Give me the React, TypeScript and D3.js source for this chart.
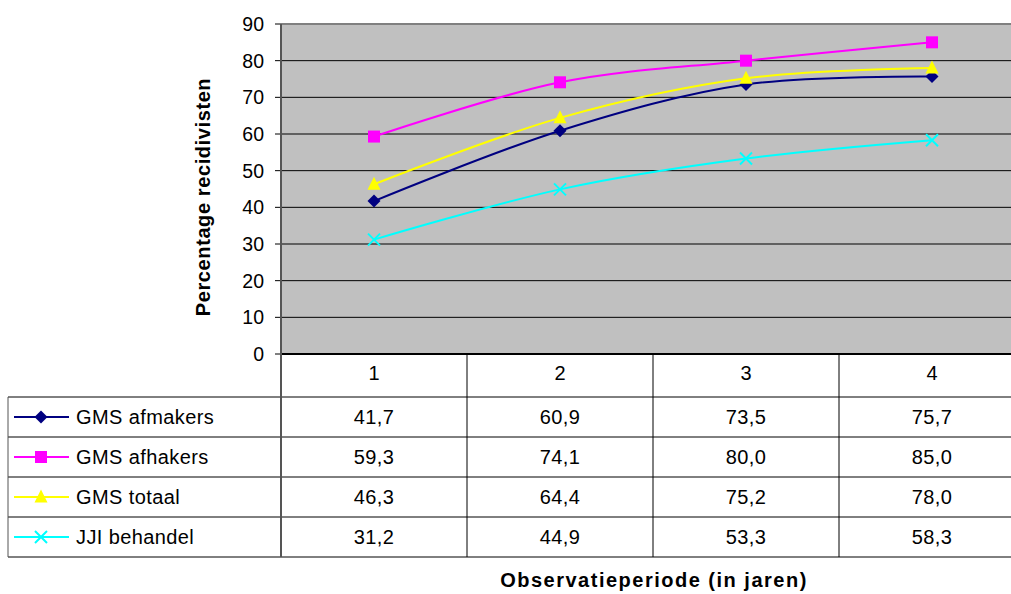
import React, { useEffect, useRef } from "react";
import * as d3 from "d3";

const categories = ["1", "2", "3", "4"];
const seriesNames = ["GMS afmakers", "GMS afhakers", "GMS totaal", "JJI behandel"];
const afmakers = [41.7, 60.9, 73.5, 75.7];
const afhakers = [59.3, 74.1, 80.0, 85.0];
const totaal = [46.3, 64.4, 75.2, 78.0];
const jji = [31.2, 44.9, 53.3, 58.3];
const yTicks = [0, 10, 20, 30, 40, 50, 60, 70, 80, 90];

const colors = ["#000080", "#FF00FF", "#FFFF00", "#00FFFF"];
const markers = ["diamond", "square", "triangle", "cross"];

const W = 1011;
const H = 594;
const FONT = "'Liberation Sans', Arial, sans-serif";

const App: React.FC = () => {
  const svgRef = useRef<SVGSVGElement | null>(null);

  useEffect(() => {
    if (!svgRef.current) return;
    const svg = d3.select(svgRef.current);
    svg.selectAll("*").remove();

    const plot = { left: 281, top: 24, bottom: 354, right: 1025 };
    const tableTop = 397;
    const tableBottom = 557;
    const tableLeft = 8;

    const values = [afmakers, afhakers, totaal, jji];

    const x = d3.scaleBand<string>().domain(categories).range([plot.left, plot.right]);
    const y = d3.scaleLinear().domain([0, 90]).range([plot.bottom, plot.top]);
    const row = d3.scaleBand<string>().domain(seriesNames).range([tableTop, tableBottom]);

    // plot background
    svg
      .append("rect")
      .attr("x", plot.left)
      .attr("y", plot.top)
      .attr("width", plot.right - plot.left)
      .attr("height", plot.bottom - plot.top)
      .attr("fill", "#C0C0C0");

    // gridlines
    svg
      .append("g")
      .selectAll("line")
      .data(yTicks.filter((t) => t > 0))
      .join("line")
      .attr("x1", plot.left)
      .attr("x2", plot.right)
      .attr("y1", (d) => y(d))
      .attr("y2", (d) => y(d))
      .attr("stroke", (d) => (d === 90 ? "#808080" : "#000"))
      .attr("stroke-width", (d) => (d === 90 ? 2 : 1));

    // y ticks + labels
    const yAxis = svg.append("g");
    yAxis
      .selectAll("line")
      .data(yTicks)
      .join("line")
      .attr("x1", plot.left - 6)
      .attr("x2", plot.left)
      .attr("y1", (d) => y(d))
      .attr("y2", (d) => y(d))
      .attr("stroke", "#000");
    yAxis
      .selectAll("text")
      .data(yTicks)
      .join("text")
      .attr("x", plot.left - 17)
      .attr("y", (d) => y(d))
      .attr("dy", "0.36em")
      .attr("text-anchor", "end")
      .attr("font-family", FONT)
      .attr("font-size", 19.5)
      .text((d) => d);

    // table lines
    const tbl = svg.append("g").attr("stroke", "#000").attr("stroke-width", 1);
    tbl
      .append("line")
      .attr("x1", plot.left)
      .attr("x2", plot.right)
      .attr("y1", plot.bottom)
      .attr("y2", plot.bottom)
      .attr("stroke-width", 2);
    const hLines = [tableTop, ...seriesNames.map((s) => (row(s) as number) + row.bandwidth())];
    tbl
      .selectAll("line.h")
      .data(hLines)
      .join("line")
      .attr("class", "h")
      .attr("x1", tableLeft)
      .attr("x2", W)
      .attr("y1", (d) => d)
      .attr("y2", (d) => d);
    tbl
      .selectAll("line.v")
      .data(categories.slice(1))
      .join("line")
      .attr("class", "v")
      .attr("x1", (d) => x(d) as number)
      .attr("x2", (d) => x(d) as number)
      .attr("y1", plot.bottom)
      .attr("y2", tableBottom);
    tbl
      .append("line")
      .attr("x1", tableLeft)
      .attr("x2", tableLeft)
      .attr("y1", tableTop)
      .attr("y2", tableBottom)
      .attr("stroke", "#555");

    // left axis line
    svg
      .append("line")
      .attr("x1", plot.left)
      .attr("x2", plot.left)
      .attr("y1", plot.top)
      .attr("y2", tableBottom)
      .attr("stroke", "#555")
      .attr("stroke-width", 2);

    // category labels
    svg
      .append("g")
      .selectAll("text")
      .data(categories)
      .join("text")
      .attr("x", (d) => (x(d) as number) + x.bandwidth() / 2)
      .attr("y", 373)
      .attr("dy", "0.36em")
      .attr("text-anchor", "middle")
      .attr("font-family", FONT)
      .attr("font-size", 20)
      .text((d) => d);

    const drawMarker = (
      g: d3.Selection<SVGGElement, unknown, null, undefined>,
      kind: string,
      cx: number,
      cy: number,
      color: string
    ) => {
      if (kind === "diamond") {
        const r = 6.5;
        g.append("path")
          .attr("d", `M${cx},${cy - r}L${cx + r},${cy}L${cx},${cy + r}L${cx - r},${cy}Z`)
          .attr("fill", color);
      } else if (kind === "square") {
        g.append("rect")
          .attr("x", cx - 6)
          .attr("y", cy - 6)
          .attr("width", 12)
          .attr("height", 12)
          .attr("fill", color);
      } else if (kind === "triangle") {
        const r = 6.5;
        g.append("path")
          .attr("d", `M${cx},${cy - r - 1}L${cx + r},${cy + r - 1}L${cx - r},${cy + r - 1}Z`)
          .attr("fill", color);
      } else {
        const r = 6;
        g.append("path")
          .attr("d", `M${cx - r},${cy - r}L${cx + r},${cy + r}M${cx - r},${cy + r}L${cx + r},${cy - r}`)
          .attr("stroke", color)
          .attr("stroke-width", 2)
          .attr("fill", "none");
      }
    };

    const line = d3
      .line<number>()
      .x((_, i) => (x(categories[i]) as number) + x.bandwidth() / 2)
      .y((d) => y(d))
      .curve(d3.curveCatmullRom.alpha(0.5));

    const series = svg.append("g");
    values.forEach((vals, si) => {
      const g = series.append("g");
      g.append("path")
        .attr("d", line(vals))
        .attr("fill", "none")
        .attr("stroke", colors[si])
        .attr("stroke-width", 2);
      vals.forEach((v, i) => {
        drawMarker(g, markers[si], (x(categories[i]) as number) + x.bandwidth() / 2, y(v), colors[si]);
      });
    });

    // table rows: legend + values
    const fmt = (v: number) => v.toFixed(1).replace(".", ",");
    seriesNames.forEach((name, si) => {
      const cy = (row(name) as number) + row.bandwidth() / 2;
      const g = svg.append("g");
      g.append("line")
        .attr("x1", 14)
        .attr("x2", 69)
        .attr("y1", cy)
        .attr("y2", cy)
        .attr("stroke", colors[si])
        .attr("stroke-width", 2);
      drawMarker(g, markers[si], 41, cy, colors[si]);
      g.append("text")
        .attr("x", 76)
        .attr("y", cy)
        .attr("dy", "0.36em")
        .attr("font-family", FONT)
        .attr("font-size", 20)
        .attr("letter-spacing", 0.4)
        .text(name);
      g.selectAll("text.v")
        .data(values[si])
        .join("text")
        .attr("class", "v")
        .attr("x", (_, i) => (x(categories[i]) as number) + x.bandwidth() / 2)
        .attr("y", cy)
        .attr("dy", "0.36em")
        .attr("text-anchor", "middle")
        .attr("font-family", FONT)
        .attr("font-size", 20)
        .attr("letter-spacing", 0.4)
        .text((d) => fmt(d));
    });

    // axis titles
    svg
      .append("text")
      .attr("transform", `translate(${210},${197}) rotate(-90)`)
      .attr("text-anchor", "middle")
      .attr("font-family", FONT)
      .attr("font-weight", "bold")
      .attr("font-size", 20)
      .attr("letter-spacing", 0.6)
      .text("Percentage recidivisten");
    svg
      .append("text")
      .attr("x", 654)
      .attr("y", 587)
      .attr("text-anchor", "middle")
      .attr("font-family", FONT)
      .attr("font-weight", "bold")
      .attr("font-size", 20)
      .attr("letter-spacing", 1.5)
      .text("Observatieperiode (in jaren)");
  }, []);

  return (
    <svg
      ref={svgRef}
      width={W}
      height={H}
      style={{ position: "absolute", left: 0, top: 0, background: "#fff" }}
    />
  );
};

export default App;
